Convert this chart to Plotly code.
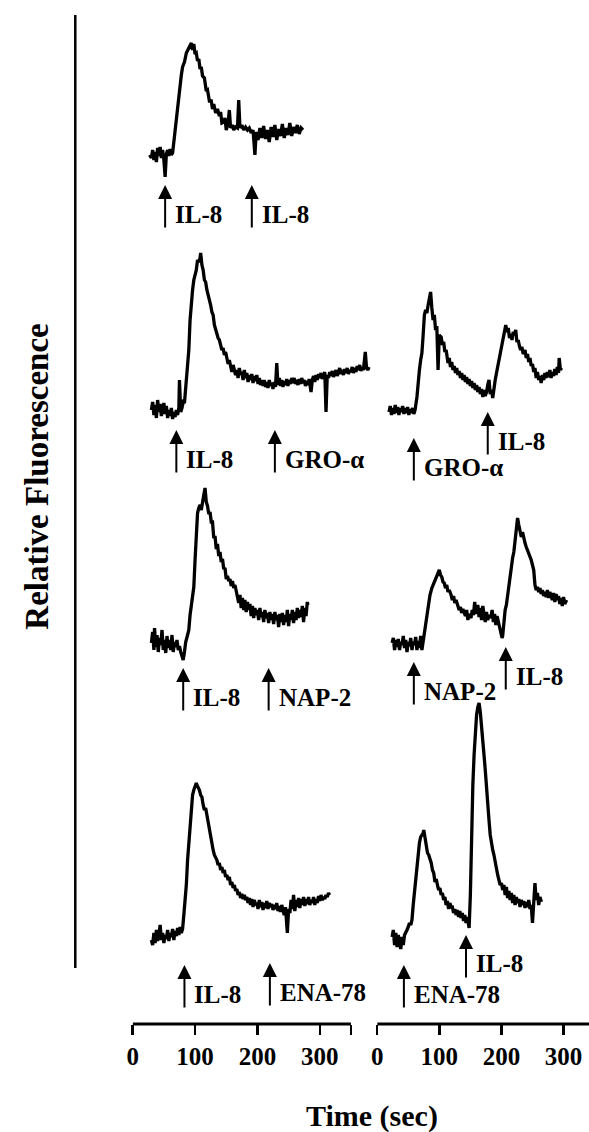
import plotly.graph_objects as go

W, H = 589, 1132
FONT = "Liberation Serif, Times New Roman, serif"

# ---------------- data (time in sec, relative fluorescence in arbitrary units) ----------------
# Row 1, left: IL-8 then IL-8
a_t = [27, 30, 32, 34, 36, 38, 40, 42, 44, 46, 48, 50, 52, 54, 56, 58, 60, 62, 64, 67, 70, 73, 75, 78, 80, 83, 86, 88, 90,
       92, 94, 96, 98, 100, 102, 104, 106, 108, 110, 112, 115, 118, 120, 123, 126, 128, 130, 133, 136, 139, 141, 143, 146,
       148, 150, 153, 155, 157, 160, 162, 165, 168, 170, 172, 175, 178, 181, 184, 187, 190, 193, 196, 198, 201, 204, 207,
       210, 213, 216, 219, 222, 225, 228, 231, 234, 237, 240, 243, 246, 249, 252, 255, 258, 261, 264, 267, 270, 273]
a_v = [25, 22, 30, 20, 28, 18, 32, 24, 33, 22, 30, 20, 3, 26, 30, 24, 31, 25, 27, 45, 62, 80, 87, 105, 113, 118, 127, 130,
       133, 135, 137,
       130, 136, 126, 127, 119, 121, 111, 113, 104, 102, 89, 90, 79, 79, 71, 76, 67, 71, 64, 68, 57, 58, 62, 50, 57,
       70, 52, 55, 50, 53, 52, 80, 52, 55, 50, 53, 50, 52, 47, 50, 25, 48, 40, 52, 42, 54, 41, 50, 38,
       53, 43, 55, 40, 51, 44, 56, 42, 52, 45, 57, 44, 53, 47, 55, 46, 52, 50]

# Row 2, left: IL-8 then GRO-alpha
b_t = [30, 32, 34, 36, 38, 40, 42, 44, 46, 48, 50, 52, 54, 56, 58, 60, 62, 64, 66, 68, 70, 72, 74, 75, 77, 79, 81, 83, 86,
       88, 90, 92, 94, 96, 98, 100, 102, 104, 106, 108, 109, 111, 113, 115, 117, 119, 121, 123, 125, 127, 129, 131, 133,
       135, 137, 139, 141, 143, 145, 147, 149, 151, 153, 155, 157, 159, 161, 163, 165, 167, 169, 171, 173, 175, 177, 179,
       181, 183, 185, 187, 189, 191, 193, 195, 197, 199, 201, 203, 205, 207, 209, 211, 213, 215, 217, 219, 221, 223, 225,
       227, 229, 231, 233, 235, 237, 239, 241, 243, 245, 247, 249, 251, 253, 255, 257, 259, 261, 263, 265, 267, 269, 271,
       273, 275, 277, 279, 281, 283, 286, 288, 290, 292, 294, 296, 298, 300, 302, 304, 306, 308, 310, 312, 314, 316, 318,
       320, 322, 324, 326, 328, 330, 332, 334, 336, 338, 340, 342, 344, 346, 348, 350, 352, 354, 356, 358, 360, 362, 364,
       366, 368, 370, 373, 375, 377, 379]
b_v = [20, 28, 15, 25, 12, 30, 18, 26, 14, 22, 27, 16, 24, 12, 20, 14, 22, 11, 18, 13, 20, 15, 22, 50, 18, 22, 28, 27, 50,
       70, 80, 110, 130, 140, 150, 155, 160, 170, 168, 172, 177, 165, 160, 150, 148, 140, 135, 132, 125, 118, 115, 105, 100,
       98, 92, 90, 85, 80, 82, 75, 78, 72, 66, 70, 62, 58, 65, 60, 55, 60, 52, 62, 55, 58, 50, 60,
       52, 57, 48, 55, 50, 56, 47, 54, 49, 55, 46, 52, 45, 50, 44, 50, 43, 48, 42, 50, 44, 47, 41,
       48, 43, 67, 45, 52, 44, 50, 43, 49, 45, 51, 44, 50, 46, 52, 47, 52, 46, 50, 45, 51, 46, 52,
       47, 50, 44, 49, 45, 51, 38, 50, 54, 48, 55, 50, 56, 52, 57, 51, 55, 58, 18, 55, 52, 58, 54,
       59, 53, 57, 60, 54, 58, 62, 56, 60, 55, 61, 57, 62, 56, 60, 58, 63, 57, 62, 58, 64, 60, 65,
       59, 63, 60, 78, 62, 60, 63]

# Row 2, right: GRO-alpha then IL-8
c_t = [19, 21, 23, 25, 27, 29, 31, 33, 35, 37, 39, 41, 43, 45, 47, 49, 51, 53, 55, 57, 59, 61, 64, 66, 68, 70, 72, 74, 76,
       78, 80, 82, 84, 86, 88, 90, 92, 94, 96, 98, 100, 103, 105, 107, 109, 111, 114, 116, 118, 120, 122, 124, 126, 128,
       130, 132, 134, 136, 138, 140, 142, 144, 146, 148, 150, 152, 154, 156, 158, 160, 162, 164, 166, 168, 170, 172, 174,
       176, 178, 180, 182, 184, 186, 188, 190, 193, 196, 199, 202, 204, 207, 209, 211, 213, 215, 217, 219, 221, 223, 225,
       227, 229, 231, 233, 235, 238, 240, 242, 244, 246, 248, 250, 252, 254, 256, 258, 260, 262, 264, 266, 268, 270, 272,
       274, 276, 278, 280, 282, 284, 286, 288, 290, 292, 293, 295, 297]
c_v = [18, 24, 15, 22, 16, 25, 17, 23, 15, 22, 18, 24, 16, 22, 17, 23, 15, 21, 17, 22, 16, 20, 33, 50, 60, 70, 77, 95, 115,
       120, 117, 125, 130, 138, 122, 110, 115, 100, 104, 60, 95, 93, 85, 88, 78, 80, 67, 72, 63, 68, 60, 64, 57, 62,
       55, 59, 52, 57, 50, 55, 48, 53, 46, 51, 44, 49, 42, 47, 40, 45, 38, 43, 36, 41, 33, 40, 34,
       38, 45, 50, 36, 40, 32, 42, 50, 60, 70, 80, 87, 95, 105, 98, 102, 92, 96, 90, 98, 95, 100, 88,
       90, 84, 80, 83, 76, 80, 72, 76, 68, 72, 64, 66, 58, 62, 52, 58, 50, 54, 47, 55, 50, 57, 52,
       58, 53, 60, 52, 58, 54, 61, 55, 63, 57, 72, 60, 62]

# Row 3, left: IL-8 then NAP-2
d_t = [30, 32, 34, 35, 37, 39, 41, 43, 45, 47, 49, 51, 53, 55, 57, 59, 61, 63, 65, 67, 69, 71, 73, 75, 77, 79, 81, 83, 85,
       88, 90, 92, 94, 96, 98, 100, 102, 104, 106, 108, 110, 112, 114, 116, 118, 120, 122, 124, 126, 128, 130, 132, 134,
       136, 138, 140, 142, 144, 146, 148, 150, 152, 154, 156, 158, 160, 162, 164, 166, 168, 170, 172, 174, 176, 178, 180,
       182, 184, 186, 188, 190, 192, 194, 196, 198, 200, 202, 204, 206, 208, 210, 212, 214, 216, 218, 220, 222, 224, 226,
       228, 230, 232, 234, 236, 238, 240, 242, 244, 246, 248, 250, 252, 254, 256, 258, 260, 262, 264, 266, 268, 270, 272,
       274, 276, 278, 280, 281]
d_v = [37, 48, 30, 52, 33, 45, 28, 42, 35, 50, 30, 40, 27, 44, 32, 40, 30, 45, 28, 38, 33, 40, 30, 34, 28, 25, 20, 28, 38,
       45, 50, 65, 75, 85, 93, 120, 150, 167, 172, 175, 170, 180, 185, 192,
       178, 174, 166, 168, 158, 158, 142, 144, 131, 136, 124, 128, 118, 121, 111, 112, 101, 104, 99, 101, 94, 99, 92, 95, 88,
       80, 77, 85, 72, 82, 70, 80,
       68, 78, 70, 76, 64, 74, 62, 72, 65, 70, 60, 72, 63, 68, 58, 70, 62, 67, 57, 68, 60, 66, 56,
       68, 60, 65, 53, 66, 58, 67, 55, 65, 58, 70, 54, 66, 60, 70, 57, 68, 60, 72, 62, 70, 63, 74,
       58, 72, 64, 78, 75]

# Row 3, right: NAP-2 then IL-8
e_t = [24, 26, 28, 30, 32, 34, 36, 38, 40, 42, 44, 46, 48, 50, 52, 54, 56, 58, 60, 62, 64, 66, 68, 70, 72, 74, 76, 79, 82,
       85, 88, 90, 92, 94, 96, 98, 100, 102, 104, 106, 108, 110, 112, 114, 116, 119, 121, 123, 125, 127, 130, 132, 134,
       136, 138, 140, 142, 144, 146, 148, 151, 153, 155, 157, 159, 162, 164, 166, 168, 170, 172, 174, 176, 178, 180, 183,
       185, 187, 189, 191, 193, 195, 197, 199, 201, 202, 204, 206, 208, 210, 212, 214, 216, 218, 220, 222, 224, 226, 228,
       230, 232, 234, 236, 238, 240, 242, 244, 246, 248, 250, 252, 254, 256, 258, 260, 262, 264, 266, 268, 270, 272, 274,
       276, 278, 280, 282, 284, 286, 288, 290, 292, 294, 296, 298, 300, 302, 305]
e_v = [37, 42, 30, 40, 33, 41, 30, 38, 35, 44, 32, 40, 28, 38, 34, 42, 30, 38, 35, 43, 30, 39, 32, 44, 30, 38, 48, 60, 75,
       85, 92, 95, 100, 103, 105, 107, 110, 105, 103, 98, 97, 92, 95, 88, 90, 85, 80, 84, 77, 80, 75, 70, 73,
       67, 71, 68, 64, 70, 60, 66, 62, 70, 65, 78, 66, 75, 63, 72, 60, 74, 65, 58, 68, 60, 65, 62,
       70, 58, 66, 55, 64, 58, 52, 48, 42, 44, 60, 70, 75, 85, 95, 105, 115, 122, 128, 140, 150, 162, 155,
       150, 143, 148, 140, 137, 133, 130, 125, 122, 120, 115, 110, 95, 90, 93, 88, 92, 86, 90, 84, 88, 83, 90,
       82, 88, 84, 80, 87, 78, 86, 80, 84, 76, 82, 74, 83, 76, 80]

# Row 4, left: IL-8 then ENA-78
f_t = [30, 32, 34, 36, 38, 40, 42, 44, 46, 48, 50, 52, 54, 56, 58, 60, 62, 64, 66, 68, 70, 72, 74, 76, 78, 80, 82, 84, 86,
       88, 90, 92, 94, 96, 98, 100, 102, 103, 105, 107, 109, 111, 113, 115, 117, 119, 121, 123, 125, 127, 129, 131, 133,
       135, 137, 139, 141, 143, 145, 147, 149, 151, 153, 155, 157, 159, 161, 163, 165, 167, 169, 171, 173, 175, 177, 179,
       181, 183, 185, 187, 189, 191, 193, 195, 197, 199, 201, 203, 205, 207, 209, 211, 213, 215, 217, 219, 221, 223, 225,
       227, 229, 231, 233, 235, 237, 239, 241, 243, 245, 248, 250, 252, 254, 256, 258, 260, 262, 264, 266, 268, 270, 272,
       274, 276, 278, 280, 282, 284, 286, 288, 290, 292, 294, 296, 298, 300, 302, 304, 306, 308, 310, 312, 314, 316]
f_v = [15, 10, 22, 12, 25, 14, 20, 30, 15, 22, 12, 20, 16, 25, 14, 22, 18, 26, 15, 24, 19, 27, 20, 28, 22, 26, 40, 55, 70,
       95, 110, 130, 150, 160, 165, 168, 172, 170, 168, 165, 160, 158, 150, 145, 147, 140, 130, 125, 118, 112, 105, 100, 98,
       95, 90, 92, 85, 88, 82, 85, 78, 80, 75, 78, 70, 73, 67, 70, 64, 66, 60, 63, 57, 61, 56, 60,
       55, 58, 52, 57, 50, 56, 48, 55, 50, 52, 46, 55, 48, 53, 45, 52, 47, 54, 46, 52, 48, 51, 45,
       50, 46, 52, 44, 49, 43, 50, 45, 40, 48, 22, 46, 42, 55, 46, 60, 44, 55, 48, 57, 47, 56, 50,
       58, 49, 56, 51, 58, 50, 55, 52, 58, 50, 56, 52, 59, 54, 60, 55, 58, 56, 60, 58, 62, 60]

# Row 4, right: ENA-78 then IL-8
g_t = [24, 26, 28, 30, 32, 34, 36, 38, 40, 42, 44, 46, 48, 50, 52, 54, 56, 58, 60, 62, 64, 66, 68, 70, 72, 74, 75, 77, 79,
       81, 83, 85, 87, 89, 91, 93, 95, 97, 99, 101, 103, 105, 107, 109, 111, 113, 115, 117, 119, 121, 123, 125, 127, 129,
       131, 133, 135, 137, 139, 141, 143, 145, 147, 148, 150, 152, 154, 156, 158, 160, 162, 164, 166, 168, 170, 172, 174,
       176, 178, 180, 182, 184, 186, 188, 190, 192, 194, 196, 198, 200, 202, 204, 206, 208, 210, 212, 214, 216, 218, 220,
       222, 224, 226, 228, 230, 232, 234, 236, 238, 240, 242, 244, 246, 248, 250, 252, 254, 256, 258, 260, 262, 264, 265]
g_v = [18, 25, 10, 22, 8, 20, 12, 6, 18, 10, 20, 22, 25, 28, 32, 30, 35, 50, 62, 75, 90, 105, 112, 118, 120, 122, 125, 118,
       108, 102, 100, 97, 92, 85, 82, 73, 76, 70, 65, 67, 60, 62, 55, 58, 50, 54, 46, 52, 48, 48, 42, 46, 40, 45,
       38, 44, 37, 42, 34, 40, 32, 38, 30, 27, 60, 130, 170, 200, 225, 240, 248, 252, 243, 225, 215, 200, 185,
       165, 145, 135, 120, 110, 105, 100, 92, 85, 80, 75, 70, 72, 65, 70, 60, 68, 57, 64, 55, 62, 52, 60,
       50, 58, 52, 56, 48, 55, 50, 54, 47, 53, 48, 55, 46, 50, 32, 52, 72, 55, 62, 50, 58, 54, 55]

# stimulus arrows: (time, label) per panel
a_stim, a_lab = [52, 191], ["IL-8", "IL-8"]
b_stim, b_lab = [70, 228], ["IL-8", "GRO-α"]
c_stim, c_lab = [59, 178], ["GRO-α", "IL-8"]
d_stim, d_lab = [81, 218], ["IL-8", "NAP-2"]
e_stim, e_lab = [59, 207], ["NAP-2", "IL-8"]
f_stim, f_lab = [83, 220], ["IL-8", "ENA-78"]
g_stim, g_lab = [43, 143], ["ENA-78", "IL-8"]

x_ticks = [0, 100, 200, 300]

# ---------------- layout of the panels (pixel positions) ----------------
panels = [
    dict(t=a_t, v=a_v, xa="x", top=20, bottom=180, stim=a_stim, lab=a_lab, tips=[185, 185]),
    dict(t=b_t, v=b_v, xa="x", top=230, bottom=430, stim=b_stim, lab=b_lab, tips=[430, 430]),
    dict(t=c_t, v=c_v, xa="x2", top=230, bottom=430, stim=c_stim, lab=c_lab, tips=[438, 412]),
    dict(t=d_t, v=d_v, xa="x", top=470, bottom=680, stim=d_stim, lab=d_lab, tips=[668, 668]),
    dict(t=e_t, v=e_v, xa="x2", top=470, bottom=680, stim=e_stim, lab=e_lab, tips=[662, 647]),
    dict(t=f_t, v=f_v, xa="x", top=690, bottom=955, stim=f_stim, lab=f_lab, tips=[965, 963]),
    dict(t=g_t, v=g_v, xa="x2", top=690, bottom=955, stim=g_stim, lab=g_lab, tips=[965, 935]),
]


def py(p):
    return 1 - p / H


fig = go.Figure()
annotations = []
layout = dict(
    width=W, height=H, margin=dict(l=0, r=0, t=0, b=0),
    paper_bgcolor="white", plot_bgcolor="rgba(0,0,0,0)", showlegend=False,
)

axis_y = py(1024)
tickfont = dict(family=FONT, size=25, color="black", weight="bold")
layout["xaxis"] = dict(
    domain=[128 / W, 380 / W], range=[0, 400], anchor="free", position=axis_y,
    showgrid=False, zeroline=False, showline=False, ticks="outside", ticklen=10, tickwidth=2.5,
    tickcolor="black", tickvals=x_ticks + [350], ticktext=[str(v) for v in x_ticks] + [""],
    tickfont=tickfont, fixedrange=True,
)
layout["xaxis2"] = dict(
    domain=[375 / W, 1.0], range=[0, 341], anchor="free", position=axis_y,
    showgrid=False, zeroline=False, showline=False, ticks="outside", ticklen=10, tickwidth=2.5,
    tickcolor="black", tickvals=x_ticks, ticktext=[str(v) for v in x_ticks],
    tickfont=tickfont, fixedrange=True,
)

for i, p in enumerate(panels):
    n = i + 1
    ykey = "yaxis" if n == 1 else f"yaxis{n}"
    yref = "y" if n == 1 else f"y{n}"
    layout[ykey] = dict(domain=[py(p["bottom"]), py(p["top"])], range=[0, p["bottom"] - p["top"]],
                        visible=False, anchor=p["xa"], fixedrange=True)
    fig.add_trace(go.Scatter(x=p["t"], y=p["v"], xaxis=p["xa"], yaxis=yref, mode="lines",
                             line=dict(color="black", width=3.3), hoverinfo="skip"))
    for s, lab, tip in zip(p["stim"], p["lab"], p["tips"]):
        annotations.append(dict(x=s, xref=p["xa"], y=py(tip), yref="paper", text="", showarrow=True,
                                ax=0, ay=44, arrowhead=2, arrowsize=1.4, arrowwidth=2, arrowcolor="black"))
        annotations.append(dict(x=s, xref=p["xa"], y=py(tip + 29), yref="paper", text=f"<b>{lab}</b>",
                                showarrow=False, xanchor="left", yanchor="middle", xshift=8,
                                font=dict(family=FONT, size=25, color="black")))

annotations.append(dict(x=31 / W, y=py(477), xref="paper", yref="paper", text="<b>Relative Fluorescence</b>",
                        textangle=-90, showarrow=False, xanchor="center", yanchor="middle",
                        font=dict(family=FONT, size=33, color="black")))
annotations.append(dict(x=370 / W, y=py(1116), xref="paper", yref="paper", text="<b>Time (sec)</b>",
                        showarrow=False, xanchor="center", yanchor="middle",
                        font=dict(family=FONT, size=30, color="black")))

shapes = [
    dict(type="line", xref="paper", yref="paper", x0=70 / W, x1=70 / W, y0=py(15), y1=py(968),
         line=dict(color="black", width=2.5)),
    dict(type="line", xref="x", yref="paper", x0=0, x1=350, y0=axis_y, y1=axis_y,
         line=dict(color="black", width=3)),
    dict(type="line", xref="x2", yref="paper", x0=0, x1=341, y0=axis_y, y1=axis_y,
         line=dict(color="black", width=3)),
]

layout["annotations"] = annotations
layout["shapes"] = shapes
fig.update_layout(**layout)
fig.write_html("out.html", config={"displayModeBar": False, "staticPlot": True},
               post_script="document.body.style.margin='0';document.body.style.overflow='hidden';")
